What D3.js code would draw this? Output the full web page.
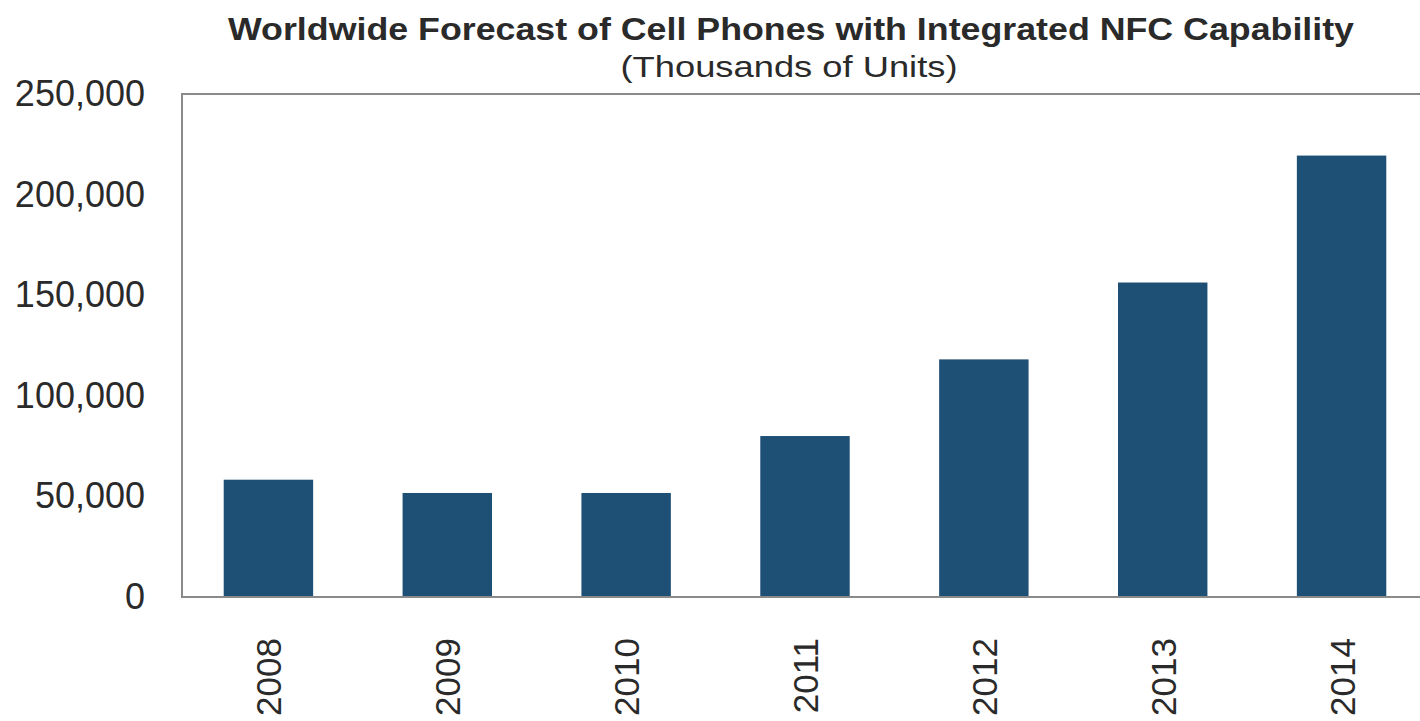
<!DOCTYPE html>
<html>
<head>
<meta charset="utf-8">
<script src="https://cdn.jsdelivr.net/npm/d3@7"></script>
<style>
  body { margin: 0; background: #fff; }
  svg text { font-family: "Liberation Sans", Arial, sans-serif; fill: #2a2a2a; }
</style>
</head>
<body>
<div id="chart"></div>
<script>
const years = ["2008", "2009", "2010", "2011", "2012", "2013", "2014"];
const units = [58300, 51700, 51700, 80000, 118100, 156300, 219400];
const yTicks = [0, 50000, 100000, 150000, 200000, 250000];
const titleText = "Worldwide Forecast of Cell Phones with Integrated NFC Capability";
const subtitleText = "(Thousands of Units)";

const width = 1420, height = 721;
const plotLeft = 182, plotRight = 1434, plotTop = 94, plotBottom = 597;

const svg = d3.select("#chart").append("svg")
  .attr("width", width)
  .attr("height", height);

const x = d3.scaleBand()
  .domain(years)
  .range([plotLeft - 3, plotRight - 3])
  .paddingInner(0.5)
  .paddingOuter(0.25);

const y = d3.scaleLinear()
  .domain([0, 250000])
  .range([plotBottom, plotTop]);

// frame
svg.append("rect")
  .attr("x", plotLeft)
  .attr("y", plotTop)
  .attr("width", plotRight - plotLeft)
  .attr("height", plotBottom - plotTop)
  .attr("fill", "none")
  .attr("stroke", "#8a8a8a")
  .attr("stroke-width", 2);

// bars
svg.selectAll(".bar")
  .data(years)
  .enter()
  .append("rect")
  .attr("class", "bar")
  .attr("x", d => x(d))
  .attr("width", x.bandwidth())
  .attr("y", (d, i) => y(units[i]))
  .attr("height", (d, i) => plotBottom - y(units[i]))
  .attr("fill", "#1e4f75");

// baseline over bars
svg.append("line")
  .attr("x1", plotLeft).attr("x2", plotRight)
  .attr("y1", plotBottom).attr("y2", plotBottom)
  .attr("stroke", "#8a8a8a")
  .attr("stroke-width", 2);

// y axis
const yAxis = svg.append("g")
  .attr("transform", "translate(" + plotLeft + ",0)")
  .call(d3.axisLeft(y).tickValues(yTicks).tickSize(0).tickPadding(37)
    .tickFormat(d3.format(",")));
yAxis.select(".domain").remove();
yAxis.selectAll("text")
  .style("font-size", "36px")
  .attr("fill", "#2a2a2a");

// x axis labels (rotated)
svg.selectAll(".xlabel")
  .data(years)
  .enter()
  .append("text")
  .attr("class", "xlabel")
  .attr("transform", d => "translate(" + (x(d) + x.bandwidth() / 2 + 13) + "," + 638 + ") rotate(-90)")
  .attr("text-anchor", "end")
  .style("font-size", "35px")
  .text(d => d);

// titles
svg.append("text")
  .attr("x", 791)
  .attr("y", 40)
  .attr("text-anchor", "middle")
  .style("font-size", "32px")
  .style("font-weight", "bold")
  .attr("textLength", 1126)
  .attr("lengthAdjust", "spacingAndGlyphs")
  .text(titleText);

svg.append("text")
  .attr("x", 789)
  .attr("y", 77)
  .attr("text-anchor", "middle")
  .style("font-size", "30px")
  .attr("textLength", 337)
  .attr("lengthAdjust", "spacingAndGlyphs")
  .text(subtitleText);
</script>
</body>
</html>
